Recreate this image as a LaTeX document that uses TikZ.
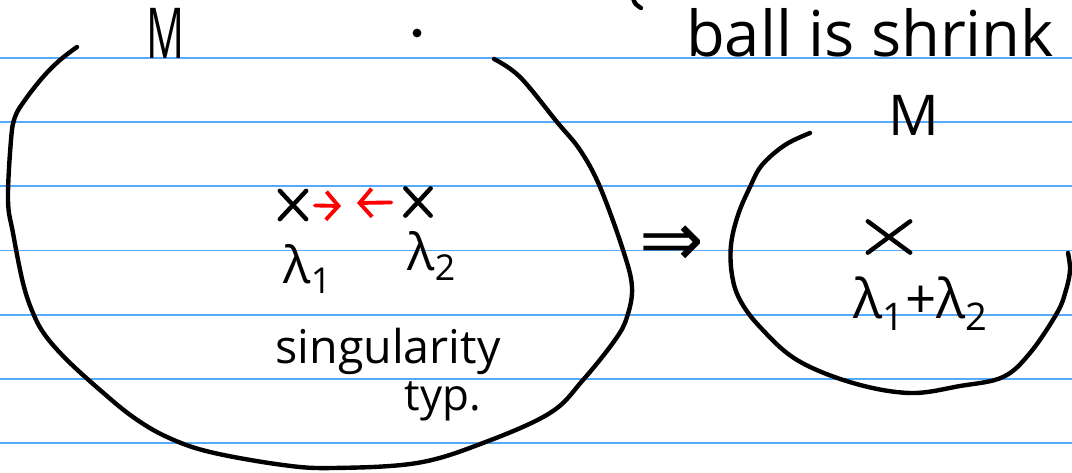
\documentclass[tikz,border=0pt]{standalone}
\usepackage{fontspec}
\setmainfont{Open Sans}
\newfontfamily\symfont{DejaVu Sans}
\usetikzlibrary{arrows.meta, shapes.misc}

\definecolor{ruleblue}{RGB}{85,170,250}

\tikzset{
  ink/.style={line width=2.5pt, line cap=round, line join=round},
  ruled/.style={ruleblue, line width=1.1pt},
  hand/.style={font=\fontsize{#1}{#1}\selectfont, inner sep=0pt},
  xmark/.style={cross out, draw, line width=2.5pt, line cap=round, inner sep=0pt},
  pull/.style={red, line width=2.2pt, line cap=round, -{Straight Barb[length=7pt, width=16pt]}},
}

\begin{document}
\begin{tikzpicture}[x=0.02cm, y=-0.02cm]
  \useasboundingbox (0,0) rectangle (1072,473);

  % notebook lines
  \foreach \k in {0,...,6}
    \draw[ruled] (0,58.3+64.07*\k) -- (1072,58.3+64.07*\k);

  % M before the ball is shrunk
  \draw[ink] plot[smooth, tension=0.6] coordinates {
    (77,47) (60,60) (43,77) (25,100) (15,117) (11,140) (8,200) (13,233)
    (23,283) (33,313) (45,335) (67,360) (100,390) (133,417) (167,437)
    (210,452) (283,465) (333,468) (417,463) (483,443) (550,413) (583,380)
    (615,340) (627,317) (632,287) (623,250) (600,187) (580,150) (557,122)
    (520,77) (494,59)};
  \node[hand=40, xscale=0.6] (M1) at (166,33) {M};
  \fill (417,33) circle (2.5pt);
  \draw[ink] (633,-2) .. controls (635,4) .. (641,8);

  % the two singular points
  \node[xmark, minimum width=0.44cm, minimum height=0.48cm] (x1) at (293,205) {};
  \node[xmark, minimum width=0.42cm, minimum height=0.46cm] (x2) at (418,202) {};
  \coordinate (t1) at (341,206);
  \coordinate (t2) at (357,203);
  \draw[pull, shorten <=5pt] (x1) -- (t1);
  \draw[pull, shorten <=8pt] (x2) -- (t2);

  \node[hand=29, anchor=base] (l1) at (308,283) {λ\textsubscript{1}};
  \node[hand=29, anchor=base] (l2) at (432,270) {λ\textsubscript{2}};
  \node[hand=26.5, anchor=base] (sing) at (388,363) {singularity};
  \node[hand=25, anchor=base] (typ) at (443,410) {typ.};

  % implies
  \node[font=\symfont\fontsize{44}{44}\selectfont, inner sep=0pt] (imp) at (672,246) {⇒};

  % M after
  \node[hand=36, anchor=base] (note) at (870,57) {ball is shrink};
  \node[hand=32] (M2) at (914,115) {M};
  \draw[ink] plot[smooth, tension=0.6] coordinates {
    (810,133) (785,145) (762,165) (750,187) (738,215) (731,245) (732,275)
    (740,300) (760,327) (797,360) (853,383) (910,393) (960,386) (1003,377)
    (1030,353) (1057,313) (1066,290) (1070,270) (1068,253)};
  \node[xmark, minimum width=0.76cm, minimum height=0.54cm] (x3) at (889,237) {};
  \node[hand=31, anchor=base] (sum) at (921,318) {λ\textsubscript{1}+λ\textsubscript{2}};
\end{tikzpicture}
\end{document}
